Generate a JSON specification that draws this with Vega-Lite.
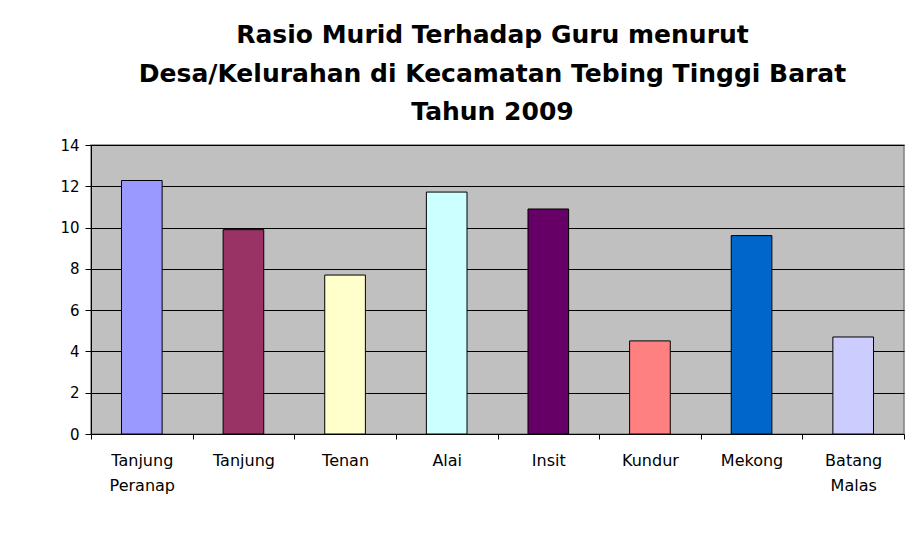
{
  "$schema": "https://vega.github.io/schema/vega-lite/v6.json",
  "autosize": "none",
  "width": 813,
  "height": 289,
  "padding": {"left": 91, "top": 145, "right": 15, "bottom": 113},
  "background": "white",
  "title": {
    "text": ["Rasio Murid Terhadap Guru menurut", "Desa/Kelurahan di Kecamatan Tebing Tinggi Barat", "Tahun 2009"],
    "font": "DejaVu Sans",
    "fontSize": 25,
    "fontWeight": "bold",
    "lineHeight": 38.5,
    "color": "black",
    "anchor": "middle",
    "dx": -5,
    "offset": 13
  },
  "data": {
    "values": [
      {"desa": "Tanjung Peranap", "rasio": 12.28, "warna": "#9999FF"},
      {"desa": "Tanjung", "rasio": 9.9, "warna": "#993366"},
      {"desa": "Tenan", "rasio": 7.7, "warna": "#FFFFCC"},
      {"desa": "Alai", "rasio": 11.72, "warna": "#CCFFFF"},
      {"desa": "Insit", "rasio": 10.9, "warna": "#660066"},
      {"desa": "Kundur", "rasio": 4.51, "warna": "#FF8080"},
      {"desa": "Mekong", "rasio": 9.61, "warna": "#0066CC"},
      {"desa": "Batang Malas", "rasio": 4.7, "warna": "#CCCCFF"}
    ]
  },
  "mark": {"type": "bar", "width": {"band": 0.4}, "stroke": "black", "strokeWidth": 1},
  "encoding": {
    "x": {
      "field": "desa",
      "type": "nominal",
      "sort": null,
      "scale": {"paddingInner": 0, "paddingOuter": 0},
      "axis": {
        "title": null,
        "labelAngle": 0,
        "labelExpr": "isValid(datum.value) ? split(datum.value, ' ') : ''",
        "labelFont": "DejaVu Sans",
        "labelFontSize": 16,
        "labelColor": "black",
        "labelPadding": 13,
        "labelLineHeight": 25,
        "tickBand": "extent",
        "tickColor": "black",
        "tickSize": 5,
        "domainColor": "black",
        "grid": false
      }
    },
    "y": {
      "field": "rasio",
      "type": "quantitative",
      "scale": {"domain": [0, 14], "nice": false},
      "axis": {
        "title": null,
        "values": [0, 2, 4, 6, 8, 10, 12, 14],
        "labelFont": "DejaVu Sans",
        "labelFontSize": 15,
        "labelColor": "black",
        "labelPadding": 6,
        "tickColor": "black",
        "tickSize": 6,
        "domainColor": "black",
        "gridColor": "black",
        "gridOpacity": 1,
        "gridWidth": 1
      }
    },
    "fill": {"field": "warna", "type": "nominal", "scale": null, "legend": null}
  },
  "config": {
    "view": {"fill": "#C0C0C0", "stroke": "#808080", "strokeWidth": 1.5}
  }
}
